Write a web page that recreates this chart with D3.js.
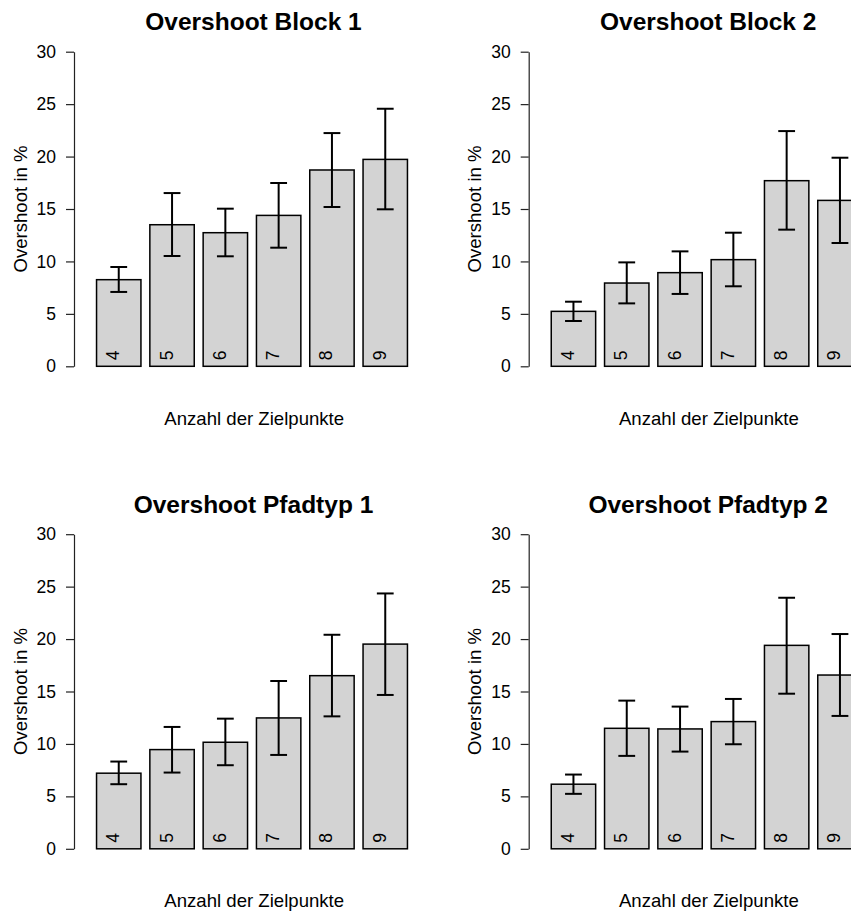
<!DOCTYPE html>
<html>
<head>
<meta charset="utf-8">
<script src="https://cdn.jsdelivr.net/npm/d3@7"></script>
<style>
  html, body { margin: 0; padding: 0; background: #fff; }
  svg text { font-family: "Liberation Sans", Arial, sans-serif; fill: #000; }
</style>
</head>
<body>
<script>
var categories = ['4', '5', '6', '7', '8', '9'];
var yTicks = [0, 5, 10, 15, 20, 25, 30];

var titles = ['Overshoot Block 1', 'Overshoot Block 2', 'Overshoot Pfadtyp 1', 'Overshoot Pfadtyp 2'];

var block1Mean = [8.26, 13.5, 12.74, 14.39, 18.72, 19.73];
var block1Lo   = [7.09, 10.52, 10.49, 11.31, 15.19, 14.97];
var block1Hi   = [9.47, 16.52, 15.03, 17.48, 22.24, 24.56];

var block2Mean = [5.24, 7.94, 8.93, 10.17, 17.7, 15.82];
var block2Lo   = [4.32, 6.0, 6.9, 7.63, 13.03, 11.76];
var block2Hi   = [6.16, 9.91, 10.96, 12.74, 22.43, 19.89];

var pfad1Mean = [7.21, 9.46, 10.16, 12.48, 16.51, 19.52];
var pfad1Lo   = [6.16, 7.27, 7.97, 8.95, 12.63, 14.67];
var pfad1Hi   = [8.32, 11.62, 12.41, 16.0, 20.41, 24.35];

var pfad2Mean = [6.16, 11.49, 11.43, 12.13, 19.4, 16.57];
var pfad2Lo   = [5.24, 8.86, 9.27, 9.97, 14.79, 12.67];
var pfad2Hi   = [7.08, 14.13, 13.56, 14.29, 23.94, 20.48];

var panels = [
  { title: titles[0], mean: block1Mean, lo: block1Lo, hi: block1Hi },
  { title: titles[1], mean: block2Mean, lo: block2Lo, hi: block2Hi },
  { title: titles[2], mean: pfad1Mean, lo: pfad1Lo, hi: pfad1Hi },
  { title: titles[3], mean: pfad2Mean, lo: pfad2Lo, hi: pfad2Hi }
];

var W = 851, H = 913;
var PANEL_DX = 454.7, PANEL_DY = 482.5;
var PLOT_L = 74, PLOT_R = 433, BAR_R = 430;
var Y0 = 366.3, Y30 = 51.7;
var CAP = 8.4;

var svg = d3.select('body').append('svg')
  .attr('width', W)
  .attr('height', H);

var x = d3.scaleBand()
  .domain(categories)
  .range([PLOT_L, BAR_R])
  .paddingInner(0.167)
  .paddingOuter(0.423);

var y = d3.scaleLinear()
  .domain([0, 30])
  .range([Y0, Y30]);

panels.forEach(function(p, k) {
  var g = svg.append('g')
    .attr('transform', 'translate(' + (k % 2) * PANEL_DX + ',' + Math.floor(k / 2) * PANEL_DY + ')');

  var rows = categories.map(function(c, i) {
    return { cat: c, mean: p.mean[i], lo: p.lo[i], hi: p.hi[i] };
  });

  // bars
  g.selectAll('rect.bar')
      .data(rows)
    .enter().append('rect')
      .attr('class', 'bar')
      .attr('x', function(d) { return x(d.cat); })
      .attr('y', function(d) { return y(d.mean); })
      .attr('width', x.bandwidth())
      .attr('height', function(d) { return y(0) - y(d.mean); })
      .attr('fill', '#d3d3d3')
      .attr('stroke', '#000')
      .attr('stroke-width', 1.5);

  // labels inside bars
  g.selectAll('text.cat')
      .data(rows)
    .enter().append('text')
      .attr('class', 'cat')
      .attr('transform', function(d) {
        return 'translate(' + (x(d.cat) + x.bandwidth() / 2 + 0.5) + ',' + (y(0) - 6) + ') rotate(-90)';
      })
      .style('font-size', '17.5px')
      .text(function(d) { return d.cat; });

  // error bars
  var eb = g.selectAll('g.err')
      .data(rows)
    .enter().append('g')
      .attr('class', 'err')
      .attr('stroke', '#000')
      .attr('stroke-width', 2);
  eb.append('line')
    .attr('x1', function(d) { return x(d.cat) + x.bandwidth() / 2; })
    .attr('x2', function(d) { return x(d.cat) + x.bandwidth() / 2; })
    .attr('y1', function(d) { return y(d.lo); })
    .attr('y2', function(d) { return y(d.hi); });
  eb.append('line')
    .attr('x1', function(d) { return x(d.cat) + x.bandwidth() / 2 - CAP; })
    .attr('x2', function(d) { return x(d.cat) + x.bandwidth() / 2 + CAP; })
    .attr('y1', function(d) { return y(d.hi); })
    .attr('y2', function(d) { return y(d.hi); });
  eb.append('line')
    .attr('x1', function(d) { return x(d.cat) + x.bandwidth() / 2 - CAP; })
    .attr('x2', function(d) { return x(d.cat) + x.bandwidth() / 2 + CAP; })
    .attr('y1', function(d) { return y(d.lo); })
    .attr('y2', function(d) { return y(d.lo); });

  // y axis
  var ax = g.append('g')
    .attr('transform', 'translate(' + PLOT_L + ',0)')
    .call(d3.axisLeft(y).tickValues(yTicks).tickSize(8).tickSizeOuter(0).tickPadding(10));
  ax.selectAll('path, line').attr('stroke', '#222').attr('stroke-width', 1.2);
  ax.selectAll('text')
    .style('font-size', '17.5px')
    .style('font-family', '"Liberation Sans", Arial, sans-serif')
    .attr('fill', '#000');

  // title
  g.append('text')
    .attr('x', (PLOT_L + PLOT_R) / 2)
    .attr('y', 30)
    .attr('text-anchor', 'middle')
    .style('font-size', '24.5px')
    .style('font-weight', 'bold')
    .text(p.title);

  // axis titles
  g.append('text')
    .attr('transform', 'translate(26.5,' + ((Y0 + Y30) / 2) + ') rotate(-90)')
    .attr('text-anchor', 'middle')
    .style('font-size', '18.6px')
    .text('Overshoot in %');

  g.append('text')
    .attr('x', (PLOT_L + PLOT_R) / 2 + 0.7)
    .attr('y', 424.5)
    .attr('text-anchor', 'middle')
    .style('font-size', '18.6px')
    .text('Anzahl der Zielpunkte');
});
</script>
</body>
</html>
